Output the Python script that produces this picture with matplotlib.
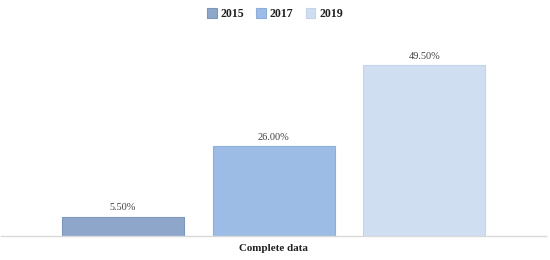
import matplotlib.pyplot as plt

years = ['2015', '2017', '2019']
values = [5.5, 26.0, 49.5]
category = 'Complete data'

face = ['#8EA6CA', '#9CBCE5', '#D0DEF1']
edge = ['#7D96BB', '#8EAFDB', '#C3D4EC']

plt.rcParams['font.family'] = ['Liberation Serif', 'DejaVu Serif']

fig = plt.figure(figsize=(5.5, 2.6), dpi=100)
ax = fig.add_axes([0.002, 0.092, 0.991, 0.796])

x = list(range(len(years)))
bars = ax.bar(x, values, width=0.81, color=face, edgecolor=edge, linewidth=0.8)
for b, v in zip(bars, values):
    ax.text(b.get_x() + b.get_width() / 2, v + 1.4, f'{v:.2f}%',
            ha='center', va='bottom', fontsize=7.4, color='#404040')

ax.set_xlim(-0.81, 2.81)
ax.set_ylim(0, 60)
ax.set_yticks([])
ax.set_xticks([1])
ax.set_xticklabels([category], fontsize=7.9, fontweight='bold', color='#202020')
ax.tick_params(axis='x', length=0, pad=6)
for s in ['top', 'right', 'left']:
    ax.spines[s].set_visible(False)
ax.spines['bottom'].set_color('#D9D9D9')
ax.spines['bottom'].set_linewidth(1)

leg = fig.legend(handles=bars, labels=years, loc='upper center', bbox_to_anchor=(0.5, 1.01),
                 ncol=3, frameon=False, prop={'weight': 'bold', 'size': 8.6},
                 handlelength=0.8, handleheight=0.8, handletextpad=0.35, columnspacing=1.0)
for t in leg.get_texts():
    t.set_color('#202020')

fig.savefig('out.png', dpi=100)
